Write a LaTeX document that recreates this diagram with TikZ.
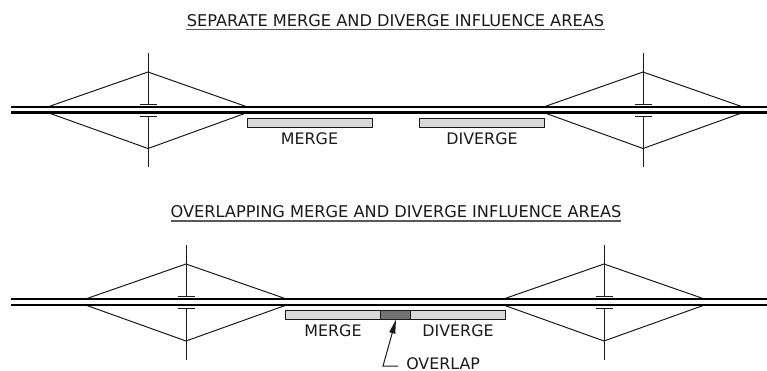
\documentclass[tikz,border=0pt]{standalone}
\usepackage{fontspec}
\setmainfont{DejaVu Sans}
\usetikzlibrary{arrows.meta}
\definecolor{ink}{HTML}{1A1A1A}
\tikzset{
  lbl/.style={inner sep=0pt,text=ink,font=\fontsize{11.9}{13}\selectfont,anchor=center},
  ttl/.style={inner sep=0pt,text=ink,font=\fontsize{12.15}{13}\selectfont,anchor=center},
  area/.style={draw=ink,line width=0.75pt,fill=black!15,inner sep=0pt,minimum height=6.9pt,anchor=north west},
  thinl/.style={ink,line width=0.75pt},
  road/.style={black,line width=1.1pt},
  roadb/.style={black,line width=1.7pt},
  rule/.style={black!65,line width=0.9pt}
}
\newcommand{\ramp}[5]{% cx, ytop-road, ybot-road, left, right
  \pgfmathsetmacro{\cx}{#1}
  \pgfmathsetmacro{\ya}{#2}
  \pgfmathsetmacro{\yb}{#3}
  \coordinate (L1) at (#4,\ya);
  \coordinate (R1) at (#5,\ya);
  \coordinate (L2) at (#4,\yb);
  \coordinate (R2) at (#5,\yb);
  \coordinate (T) at (\cx,\ya-35);
  \coordinate (B) at (\cx,\yb+36);
  \coordinate (VT) at (\cx,\ya-54);
  \coordinate (VB) at (\cx,\yb+54.5);
  \coordinate (DT) at (\cx,\ya-3);
  \coordinate (DB) at (\cx,\yb+3.5);
  \draw[thinl] (L1) -- (T) -- (R1);
  \draw[thinl] (L2) -- (B) -- (R2);
  \draw[thinl] (VT) -- (DT);
  \draw[thinl] (DB) -- (VB);
  \draw[thinl] ([xshift=-8.5*0.75pt]DT) -- ([xshift=8.5*0.75pt]DT);
  \draw[thinl] ([xshift=-8.5*0.75pt]DB) -- ([xshift=8.5*0.75pt]DB);
}
\begin{document}
\begin{tikzpicture}[x=0.75pt,y=-0.75pt]
\useasboundingbox (0,0) rectangle (767,371);
% top
\ramp{148}{107}{112.5}{47.5}{247.5}
\ramp{643}{107}{112.5}{543.5}{743}
\coordinate (ta) at (11,107); \coordinate (tb) at (767,107);
\coordinate (tc) at (11,112.5); \coordinate (td) at (767,112.5);
\draw[road] (ta) -- (tb);
\draw[roadb] (tc) -- (td);
\node[ttl] (t1) at (395.5,21) {SEPARATE MERGE AND DIVERGE INFLUENCE AREAS};
\coordinate (t1a) at (186,29.5); \coordinate (t1b) at (605,29.5);
\draw[rule] (t1a) -- (t1b);
\node[area,minimum width=93.6pt] (m1) at (247,118) {};
\node[area,minimum width=93.6pt] (d1) at (419,118) {};
\node[lbl] (ml1) at (309.5,139) {MERGE};
\node[lbl] (dl1) at (482,139) {DIVERGE};
% bottom
\ramp{186}{299}{305}{85.5}{286.5}
\ramp{604}{299}{305}{503.5}{704.5}
\coordinate (ba) at (11,299); \coordinate (bb) at (767,299);
\coordinate (bc) at (11,305); \coordinate (bd) at (767,305);
\draw[road] (ba) -- (bb);
\draw[roadb] (bc) -- (bd);
\node[ttl] (t2) at (396,212) {OVERLAPPING MERGE AND DIVERGE INFLUENCE AREAS};
\coordinate (t2a) at (171,221); \coordinate (t2b) at (621,221);
\draw[rule] (t2a) -- (t2b);
\node[area,minimum width=165pt] (m2) at (285,310) {};
\node[area,fill=black!55,minimum width=22.5pt] (ov) at (380,310) {};
\node[lbl] (ml2) at (333,331) {MERGE};
\node[lbl] (dl2) at (458,331) {DIVERGE};
\node[lbl,anchor=west] (ol) at (406,364) {OVERLAP};
\coordinate (e1) at (398,366);
\coordinate (e2) at (383,366);
\coordinate (e3) at (396,319.5);
\draw[thinl,-{Triangle[length=10.5pt,width=4.5pt]}] (e1) -- (e2) -- (e3);
\end{tikzpicture}
\end{document}
